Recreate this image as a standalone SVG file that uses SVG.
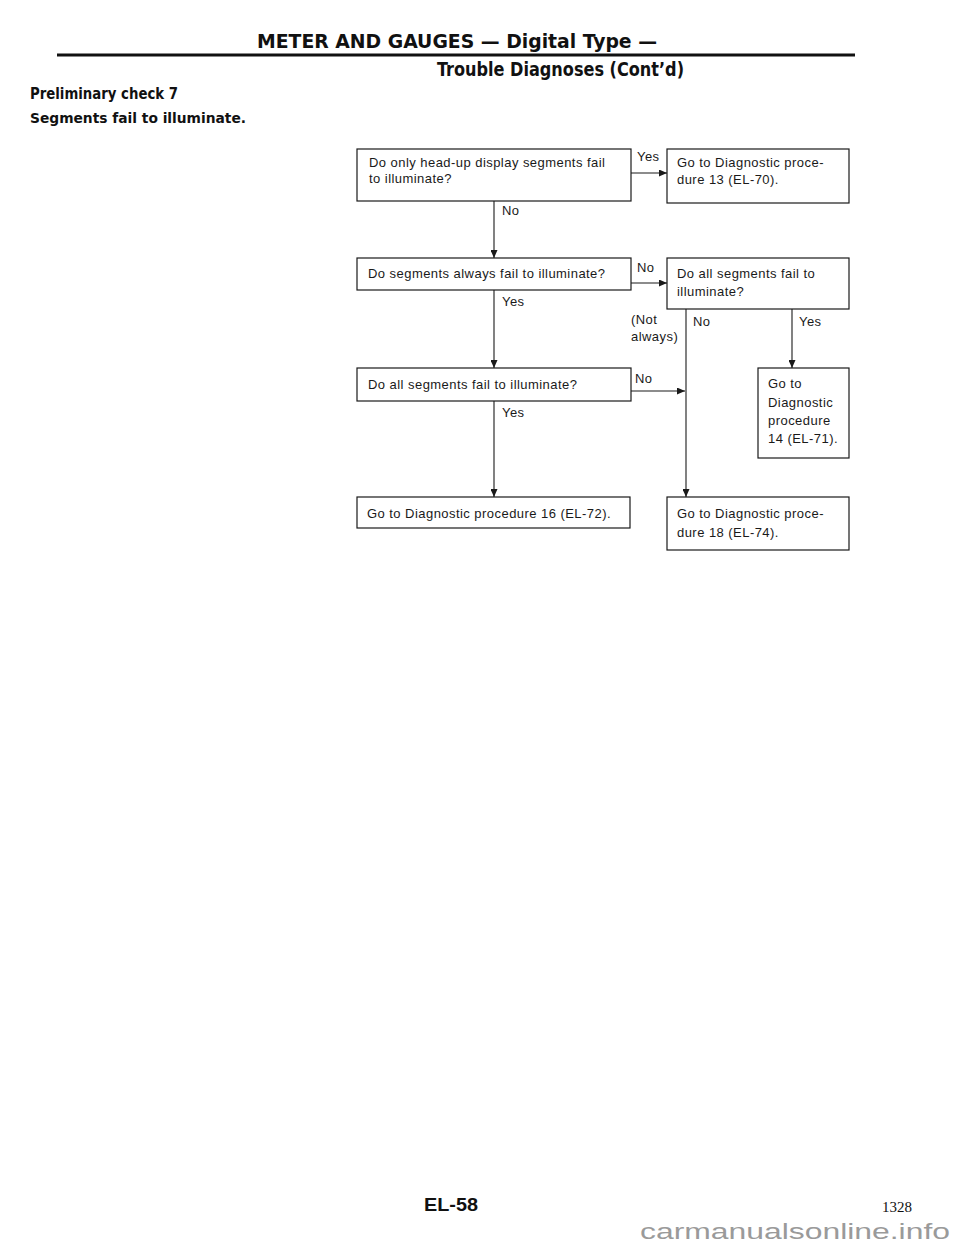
<svg xmlns="http://www.w3.org/2000/svg" width="960" height="1242" viewBox="0 0 960 1242">
<style>
.hd{font-family:"Liberation Sans Narrow","DejaVu Sans Condensed","Liberation Sans",Arial,sans-serif;font-weight:bold;fill:#111}
.t{font-family:"Liberation Sans",Arial,Helvetica,sans-serif;font-size:13px;letter-spacing:0.45px;fill:#1a1a1a}
.box{fill:#fff;stroke:#1a1a1a;stroke-width:1.2}
.ln{fill:none;stroke:#1a1a1a;stroke-width:1.1}
</style>
<defs>
<marker id="ah" markerUnits="userSpaceOnUse" markerWidth="8" markerHeight="7" refX="8" refY="3.5" orient="auto">
<path d="M0,0 L8,3.5 L0,7 z" fill="#1a1a1a"/>
</marker>
</defs>
<rect width="960" height="1242" fill="#fff"/>

<g id="header">
<text class="hd" x="257" y="48" font-size="19" textLength="400" lengthAdjust="spacingAndGlyphs">METER AND GAUGES — Digital Type —</text>
<rect x="57" y="53.5" width="798" height="3" fill="#111"/>
<text class="hd" x="437" y="76" font-size="19" textLength="247" lengthAdjust="spacingAndGlyphs">Trouble Diagnoses (Cont’d)</text>
<text class="hd" x="30" y="99" font-size="16" textLength="148" lengthAdjust="spacingAndGlyphs">Preliminary check 7</text>
<text class="hd" x="30" y="123" font-size="14" textLength="216" lengthAdjust="spacingAndGlyphs">Segments fail to illuminate.</text>
</g>

<g id="connectors">
<path class="ln" d="M631,173 H667" marker-end="url(#ah)"/>
<path class="ln" d="M494,201 V258" marker-end="url(#ah)"/>
<path class="ln" d="M631,283 H667" marker-end="url(#ah)"/>
<path class="ln" d="M494,290 V368" marker-end="url(#ah)"/>
<path class="ln" d="M631,391 H685" marker-end="url(#ah)"/>
<path class="ln" d="M494,401 V497" marker-end="url(#ah)"/>
<path class="ln" d="M686,309 V497" marker-end="url(#ah)"/>
<path class="ln" d="M792,309 V368" marker-end="url(#ah)"/>
<text class="t" x="637" y="161">Yes</text>
<text class="t" x="502" y="215">No</text>
<text class="t" x="637" y="272">No</text>
<text class="t" x="502" y="306">Yes</text>
<text class="t" x="631" y="324">(Not</text>
<text class="t" x="631" y="341">always)</text>
<text class="t" x="693" y="326">No</text>
<text class="t" x="799" y="326">Yes</text>
<text class="t" x="635" y="383">No</text>
<text class="t" x="502" y="417">Yes</text>
</g>

<g id="q1">
<rect class="box" x="357" y="149" width="274" height="52"/>
<text class="t" x="369" y="167">Do only head-up display segments fail</text>
<text class="t" x="369" y="183">to illuminate?</text>
</g>

<g id="r13">
<rect class="box" x="667" y="149" width="182" height="54"/>
<text class="t" x="677" y="167">Go to Diagnostic proce-</text>
<text class="t" x="677" y="184">dure 13 (EL-70).</text>
</g>

<g id="q2">
<rect class="box" x="357" y="258" width="274" height="32"/>
<text class="t" x="368" y="278">Do segments always fail to illuminate?</text>
</g>

<g id="q3">
<rect class="box" x="667" y="258" width="182" height="51"/>
<text class="t" x="677" y="278">Do all segments fail to</text>
<text class="t" x="677" y="296">illuminate?</text>
</g>

<g id="q4">
<rect class="box" x="357" y="368" width="274" height="33"/>
<text class="t" x="368" y="389">Do all segments fail to illuminate?</text>
</g>

<g id="r14">
<rect class="box" x="758" y="368" width="91" height="90"/>
<text class="t" x="768" y="388">Go to</text>
<text class="t" x="768" y="407">Diagnostic</text>
<text class="t" x="768" y="425">procedure</text>
<text class="t" x="768" y="443">14 (EL-71).</text>
</g>

<g id="r16">
<rect class="box" x="357" y="497" width="273" height="31"/>
<text class="t" x="367" y="518">Go to Diagnostic procedure 16 (EL-72).</text>
</g>

<g id="r18">
<rect class="box" x="667" y="497" width="182" height="53"/>
<text class="t" x="677" y="518">Go to Diagnostic proce-</text>
<text class="t" x="677" y="537">dure 18 (EL-74).</text>
</g>

<g id="footer">
<text class="hd" x="424" y="1211" font-size="19" textLength="54" lengthAdjust="spacingAndGlyphs" style="font-family:'Liberation Sans',Arial,sans-serif">EL-58</text>
<text x="882" y="1212" font-family="'Liberation Serif','Times New Roman',serif" font-size="15" fill="#111">1328</text>
<text x="640" y="1239" font-family="'Liberation Sans',Arial,sans-serif" font-size="22" fill="#9a9a9a" textLength="310" lengthAdjust="spacingAndGlyphs">carmanualsonline.info</text>
</g>
</svg>
